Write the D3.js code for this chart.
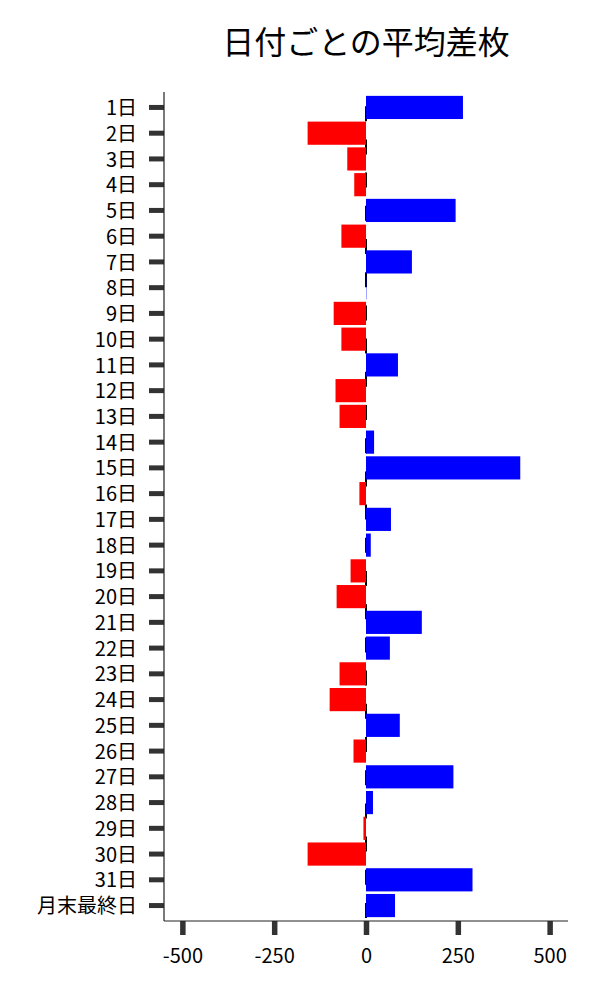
<!DOCTYPE html>
<html>
<head>
<meta charset="utf-8">
<script src="https://cdn.jsdelivr.net/npm/d3@7"></script>
<style>
    body { margin: 0; background: #fff; }
    svg { display: block; font-family: "Noto Sans CJK JP", "Noto Sans", sans-serif; }
</style>
</head>
<body>
<svg id="chart"></svg>
<script>
const days = ['1日', '2日', '3日', '4日', '5日', '6日', '7日', '8日', '9日', '10日',
    '11日', '12日', '13日', '14日', '15日', '16日', '17日', '18日', '19日', '20日',
    '21日', '22日', '23日', '24日', '25日', '26日', '27日', '28日', '29日', '30日',
    '31日', '月末最終日'];
const avgDiff = [264, -159, -51, -32, 244, -67, 125, 1, -88, -67,
    87, -83, -72, 22, 420, -18, 68, 13, -42, -80,
    152, 65, -72, -99, 92, -34, 238, 19, -7, -159,
    290, 79];
const xTicks = [-500, -250, 0, 250, 500];

const width = 600, height = 1000;
const plot = { left: 164, right: 568, top: 92, bottom: 921 };

const svg = d3.select('#chart').attr('width', width).attr('height', height);

const x = d3.scaleLinear().domain([-550, 550]).range([plot.left, plot.right]);
const y = d3.scaleBand().domain(days).range([plot.top, plot.bottom])
    .paddingInner(0.1).paddingOuter(0.15);

const data = days.map((d, i) => ({ day: d, value: avgDiff[i] }));

// Title
svg.append('text')
    .attr('x', (plot.left + plot.right) / 2)
    .attr('y', 54)
    .attr('text-anchor', 'middle')
    .attr('font-size', '32px')
    .attr('fill', '#000')
    .text('日付ごとの平均差枚');

// dashed zero line (behind bars)
svg.append('line')
    .attr('x1', x(0)).attr('x2', x(0))
    .attr('y1', plot.bottom - 3).attr('y2', plot.top)
    .attr('stroke', '#000')
    .attr('stroke-width', 2)
    .attr('stroke-dasharray', '15 18.2');

// Bars
svg.selectAll('.bar')
    .data(data)
    .enter()
    .append('rect')
    .attr('class', 'bar')
    .attr('x', d => x(Math.min(0, d.value)))
    .attr('width', d => Math.abs(x(d.value) - x(0)))
    .attr('y', d => y(d.day))
    .attr('height', y.bandwidth())
    .attr('fill', d => d.value < 0 ? '#ff0000' : '#0000ff');

// Y axis
const yAxis = svg.append('g')
    .attr('transform', `translate(${plot.left},0)`)
    .call(d3.axisLeft(y).tickSize(15).tickPadding(12));
yAxis.select('.domain').remove();
yAxis.selectAll('.tick line').attr('stroke', '#333').attr('stroke-width', 5);
yAxis.selectAll('.tick text')
    .attr('dy', '0.38em')
    .attr('font-size', '20px')
    .attr('fill', '#000')
    .attr('font-family', '"Noto Sans CJK JP", sans-serif');

// X axis
const xAxis = svg.append('g')
    .attr('transform', `translate(0,${plot.bottom})`)
    .call(d3.axisBottom(x).tickValues(xTicks).tickFormat(d => String(d))
        .tickSize(14).tickPadding(14));
xAxis.select('.domain').remove();
xAxis.selectAll('.tick line').attr('stroke', '#333').attr('stroke-width', 5.5);
xAxis.selectAll('.tick text')
    .attr('font-size', '20px')
    .attr('fill', '#000')
    .attr('font-family', '"Noto Sans CJK JP", sans-serif');

// Spines
svg.append('line')
    .attr('x1', plot.left).attr('x2', plot.left)
    .attr('y1', plot.top).attr('y2', plot.bottom)
    .attr('stroke', '#222').attr('stroke-width', 1.2);
svg.append('line')
    .attr('x1', plot.left).attr('x2', plot.right)
    .attr('y1', plot.bottom).attr('y2', plot.bottom)
    .attr('stroke', '#222').attr('stroke-width', 1.2);
</script>
</body>
</html>
